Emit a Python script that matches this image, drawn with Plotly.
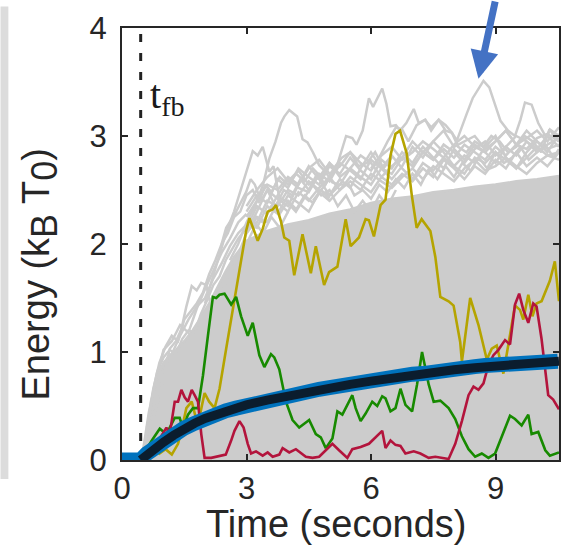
import plotly.graph_objects as go

# ---------------- data ----------------
t_fb = 0.45

# upper edge of the solid mass of gray trajectories
t_env = [0.47, 0.55, 0.65, 0.8, 0.95, 1.1, 1.3, 1.5, 1.7, 1.9, 2.1, 2.3, 2.5, 2.7, 2.9, 3.0,
         3.5, 4.0, 4.5, 5.0, 5.5, 6.0, 6.5, 7.0, 7.5, 8.0, 8.5, 9.0, 9.5, 10.0, 10.53]
E_env = [0.0, 0.2, 0.45, 0.7, 0.85, 0.95, 1.02, 1.1, 1.2, 1.32, 1.45, 1.6, 1.75, 1.88, 1.98, 2.03,
         2.12, 2.18, 2.22, 2.28, 2.32, 2.38, 2.42, 2.44, 2.48, 2.5, 2.53, 2.55, 2.58, 2.6, 2.63]

t_grid = [3.0, 3.25, 3.5, 3.75, 4.0, 4.25, 4.5, 4.75, 5.0, 5.25, 5.5, 5.75, 6.0, 6.25, 6.5, 6.75,
          7.0, 7.25, 7.5, 7.75, 8.0, 8.25, 8.5, 8.75, 9.0, 9.25, 9.5, 9.75, 10.0, 10.25, 10.53]

# individual gray trajectories on the fringe of the bundle
gray_lines = [
    ([4.6, 4.9, 5.2, 5.4, 5.55, 5.65, 5.8, 5.95, 6.05, 6.27, 6.37, 6.47, 6.6, 6.7, 6.85, 7.03, 7.15,
      7.3, 7.45, 7.63, 7.8, 7.95, 8.07, 8.19, 8.31, 8.45, 8.6, 8.71, 8.85, 9.0, 9.12, 9.3, 9.47,
      9.6, 9.71, 9.87, 10.03, 10.23, 10.31, 10.53],
     [2.4, 2.55, 2.75, 3.0, 2.98, 2.92, 3.05, 3.35, 3.27, 3.44, 3.3, 3.09, 3.1, 3.05, 3.12, 3.25, 3.12,
      3.15, 3.08, 3.15, 3.05, 3.03, 2.96, 3.09, 3.21, 3.35, 3.45, 3.51, 3.45, 3.27, 3.14, 3.05, 3.0,
      3.15, 3.31, 3.29, 3.12, 2.98, 3.06, 3.0]),
    ([2.6, 2.8, 3.0, 3.2, 3.4, 3.55, 3.7, 3.83, 3.91, 4.03, 4.22, 4.35, 4.47, 4.6, 4.75, 4.9, 5.07,
      5.23, 5.47, 5.6, 5.8, 6.0, 6.2, 6.4, 6.6, 6.8, 7.0, 7.2, 7.4, 7.6, 7.8, 8.0, 8.2, 8.4, 8.6, 8.8,
      9.0, 9.2, 9.4, 9.6, 9.8, 10.0, 10.2, 10.4, 10.53],
     [1.85, 2.0, 2.2, 2.35, 2.55, 2.79, 2.95, 3.12, 3.18, 3.24, 3.18, 2.97, 2.94, 2.85, 2.73, 2.67, 2.57,
      2.55, 2.55, 2.45, 2.5, 2.42, 2.55, 2.48, 2.6, 2.52, 2.65, 2.55, 2.7, 2.6, 2.72, 2.62, 2.75, 2.68,
      2.8, 2.7, 2.85, 2.75, 2.8, 2.9, 2.78, 2.85, 2.92, 2.8, 2.88]),
    ([2.0, 2.2, 2.4, 2.52, 2.7, 2.83, 2.99, 3.15, 3.27, 3.39, 3.55, 3.65, 3.79, 3.95, 4.19, 4.35, 4.59,
      4.8, 5.0, 5.2, 5.4, 5.6, 5.8, 6.0, 6.2, 6.4, 6.6],
     [1.45, 1.7, 1.95, 2.12, 2.3, 2.46, 2.67, 2.86, 2.82, 2.9, 2.67, 2.72, 2.43, 2.4, 2.3, 2.4, 2.55,
      2.45, 2.5, 2.35, 2.45, 2.3, 2.4, 2.3, 2.45, 2.35, 2.5]),
    ([0.5, 0.7, 0.9, 1.05, 1.15, 1.3, 1.43, 1.55, 1.68, 1.8, 1.91, 2.03, 2.11, 2.25, 2.4, 2.55, 2.7,
      2.85, 3.0, 3.2, 3.4, 3.6, 3.8, 4.0],
     [0.02, 0.3, 0.6, 0.85, 1.03, 1.1, 1.21, 1.42, 1.61, 1.57, 1.64, 1.62, 1.48, 1.4, 1.55, 1.7, 1.8,
      1.95, 2.1, 2.2, 2.1, 2.25, 2.15, 2.3]),
    ([2.4, 2.51, 2.71, 2.83, 2.99, 3.1, 3.2, 3.35, 3.5, 3.7, 3.9, 4.1, 4.3, 4.5, 4.7, 4.9, 5.1, 5.3,
      5.5, 5.7, 5.9, 6.1, 6.3, 6.5],
     [2.0, 2.15, 2.27, 2.36, 2.48, 2.6, 2.55, 2.4, 2.5, 2.35, 2.5, 2.45, 2.6, 2.5, 2.65, 2.55, 2.7, 2.8,
      2.85, 2.72, 2.75, 2.85, 2.7, 2.8]),
    ([6.0, 6.2, 6.4, 6.6, 6.75, 6.9, 7.1, 7.31, 7.45, 7.63, 7.8, 7.95, 8.1, 8.3, 8.5, 8.7, 8.9, 9.1,
      9.3, 9.5, 9.7, 9.9, 10.1, 10.3, 10.53],
     [2.7, 2.8, 2.95, 3.08, 3.06, 2.95, 3.1, 3.15, 3.05, 3.15, 3.1, 3.03, 2.9, 2.85, 2.95, 2.9, 3.0, 2.95,
      2.85, 2.9, 3.0, 2.95, 2.85, 3.06, 2.95]),
    (t_grid,
     [2.3, 2.45, 2.38, 2.6, 2.52, 2.7, 2.62, 2.55, 2.72, 2.65, 2.8, 2.68, 2.6, 2.78, 2.7, 2.85, 2.75, 2.9,
      2.8, 2.7, 2.88, 2.78, 2.92, 2.85, 2.75, 2.9, 2.82, 2.95, 2.88, 3.0, 2.9]),
    (t_grid,
     [2.1, 2.3, 2.5, 2.42, 2.35, 2.55, 2.72, 2.6, 2.45, 2.6, 2.52, 2.7, 2.85, 2.7, 2.6, 2.72, 2.9, 2.8,
      2.95, 2.85, 2.72, 2.82, 2.75, 2.9, 3.0, 2.8, 2.7, 2.85, 2.95, 2.85, 3.02]),
    (t_grid,
     [2.2, 2.15, 2.35, 2.28, 2.45, 2.38, 2.3, 2.48, 2.4, 2.5, 2.62, 2.55, 2.48, 2.62, 2.55, 2.65, 2.58,
      2.7, 2.62, 2.78, 2.7, 2.6, 2.72, 2.65, 2.78, 2.7, 2.85, 2.72, 2.8, 2.72, 2.85]),
    (t_grid,
     [2.25, 2.4, 2.55, 2.5, 2.62, 2.55, 2.7, 2.78, 2.65, 2.72, 2.85, 2.75, 2.68, 2.82, 2.9, 2.78, 2.85,
      2.95, 2.88, 2.8, 2.92, 3.0, 2.9, 2.85, 2.95, 3.05, 2.92, 2.88, 2.98, 3.02, 2.95]),
    (t_grid,
     [2.15, 2.35, 2.28, 2.45, 2.6, 2.52, 2.48, 2.65, 2.58, 2.75, 2.68, 2.6, 2.78, 2.7, 2.65, 2.8, 2.72,
      2.85, 2.78, 2.92, 2.85, 2.75, 2.88, 2.95, 2.82, 2.9, 3.0, 2.95, 2.85, 2.92, 2.98]),
    (t_grid,
     [2.35, 2.5, 2.62, 2.7, 2.58, 2.68, 2.55, 2.62, 2.75, 2.62, 2.7, 2.82, 2.75, 2.62, 2.72, 2.8, 2.95,
      2.85, 2.78, 2.88, 2.8, 2.92, 2.85, 2.78, 2.9, 2.82, 2.92, 3.05, 2.95, 2.88, 2.92]),
    (t_grid,
     [2.0, 2.2, 2.4, 2.35, 2.5, 2.45, 2.58, 2.5, 2.45, 2.55, 2.7, 2.62, 2.55, 2.7, 2.82, 2.7, 2.6, 2.75,
      2.68, 2.8, 2.72, 2.65, 2.8, 2.75, 2.85, 2.78, 2.7, 2.8, 2.9, 2.82, 2.85]),
    (t_grid,
     [2.1, 2.25, 2.2, 2.38, 2.3, 2.48, 2.4, 2.52, 2.62, 2.5, 2.58, 2.5, 2.65, 2.58, 2.52, 2.62, 2.7, 2.6,
      2.72, 2.65, 2.58, 2.7, 2.78, 2.68, 2.72, 2.8, 2.72, 2.65, 2.75, 2.82, 2.78]),
    ([7.0, 7.25, 7.5, 7.75, 8.0, 8.25, 8.5, 8.75, 9.0, 9.25, 9.5, 9.75, 10.0, 10.25, 10.53],
     [2.7, 2.85, 2.95, 3.05, 2.9, 2.95, 3.0, 2.88, 2.95, 3.05, 2.92, 2.98, 3.05, 2.95, 3.08]),
    ([0.55, 0.7, 0.85, 1.0, 1.15, 1.3, 1.45, 1.6, 1.75, 1.9, 2.05, 2.2, 2.35, 2.5, 2.65, 2.8, 3.0, 3.2,
      3.4, 3.6, 3.8, 4.0, 4.2, 4.4, 4.6, 4.8, 5.0],
     [0.1, 0.55, 0.82, 0.95, 1.02, 0.98, 1.12, 1.2, 1.18, 1.35, 1.48, 1.62, 1.7, 1.85, 1.95, 2.05, 2.15,
      2.25, 2.2, 2.35, 2.28, 2.4, 2.32, 2.45, 2.38, 2.5, 2.42]),
    ([0.6, 0.75, 0.9, 1.05, 1.2, 1.35, 1.5, 1.65, 1.8, 1.95, 2.1, 2.25, 2.4, 2.55, 2.7, 2.85, 3.0, 3.15,
      3.3, 3.45, 3.6, 3.8, 4.0, 4.2, 4.4, 4.6, 4.8, 5.0, 5.2],
     [0.2, 0.65, 0.9, 1.05, 1.15, 1.1, 1.3, 1.38, 1.45, 1.55, 1.72, 1.85, 2.0, 2.1, 2.25, 2.3, 2.45, 2.5,
      2.38, 2.55, 2.48, 2.62, 2.55, 2.65, 2.58, 2.7, 2.62, 2.75, 2.68]),
    ([0.55, 0.7, 0.85, 1.0, 1.2, 1.4, 1.6, 1.8, 2.0, 2.2, 2.4, 2.6, 2.8, 3.0],
     [0.15, 0.5, 0.78, 1.02, 1.1, 1.25, 1.18, 1.4, 1.58, 1.75, 1.92, 2.05, 2.2, 2.28]),
    ([0.6, 0.8, 1.0, 1.2, 1.4, 1.6, 1.8, 2.0, 2.2, 2.4, 2.6, 2.8, 3.0],
     [0.3, 0.72, 0.9, 0.98, 1.15, 1.3, 1.42, 1.5, 1.68, 1.82, 1.98, 2.1, 2.18]),
]

# three highlighted trajectories
t_olive = [0.45, 0.6, 0.75, 0.9, 1.05, 1.2, 1.35, 1.45, 1.55, 1.68, 1.8, 1.88, 1.99, 2.1, 2.23, 2.35,
           2.51, 2.67, 2.83, 2.99, 3.07, 3.15, 3.27, 3.39, 3.51, 3.63, 3.71, 3.83, 3.91, 4.03, 4.15,
           4.35, 4.55, 4.67, 4.87, 4.99, 5.19, 5.39, 5.51, 5.71, 5.87, 5.95, 6.07, 6.23, 6.35, 6.47,
           6.59, 6.70, 6.86, 6.98, 7.10, 7.22, 7.39, 7.43, 7.55, 7.67, 7.87, 7.99, 8.15, 8.19, 8.39,
           8.59, 8.79, 8.91, 9.03, 9.19, 9.31, 9.47, 9.59, 9.67, 9.79, 9.89, 9.99, 10.11, 10.31,
           10.43, 10.53]
E_olive = [0.0, 0.03, 0.11, 0.06, 0.1, 0.05, 0.15, 0.3, 0.48, 0.54, 0.36, 0.42, 0.62, 0.54, 0.48, 0.66,
           1.03, 1.39, 1.73, 2.12, 2.24, 2.15, 2.03, 2.14, 2.30, 2.32, 2.36, 2.21, 2.06, 2.03, 1.71,
           2.09, 1.73, 1.98, 1.62, 1.74, 1.79, 2.23, 1.98, 2.06, 2.23, 2.22, 2.07, 2.36, 2.41, 2.82,
           3.02, 3.05, 2.84, 2.46, 2.15, 2.23, 2.14, 2.12, 1.88, 1.51, 1.47, 1.43, 1.09, 0.91, 1.50,
           1.25, 0.93, 1.03, 1.06, 0.80, 1.07, 1.43, 1.39, 1.30, 1.53, 1.33, 1.45, 1.47, 1.66,
           1.84, 1.47]

t_green = [0.45, 0.6, 0.75, 0.91, 1.07, 1.27, 1.39, 1.47, 1.59, 1.71, 1.83, 1.95, 2.07, 2.19, 2.27,
           2.35, 2.47, 2.63, 2.75, 2.87, 3.03, 3.15, 3.31, 3.43, 3.59, 3.67, 3.79, 3.95, 4.11, 4.27,
           4.51, 4.67, 4.79, 4.91, 5.07, 5.19, 5.31, 5.43, 5.55, 5.63, 5.75, 5.87, 6.03, 6.15, 6.27,
           6.35, 6.47, 6.59, 6.71, 6.83, 6.99, 7.11, 7.23, 7.39, 7.51, 7.67, 7.87, 8.03, 8.19, 8.35,
           8.51, 8.67, 8.83, 8.99, 9.15, 9.35, 9.47, 9.63, 9.79, 9.87, 10.03, 10.2, 10.31, 10.53]
E_green = [0.0, 0.11, 0.2, 0.29, 0.24, 0.39, 0.39, 0.29, 0.42, 0.48, 0.48, 0.78, 1.15, 1.51, 1.50,
           1.53, 1.54, 1.44, 1.51, 1.33, 1.15, 1.27, 0.97, 0.86, 0.98, 0.95, 0.84, 0.54, 0.37, 0.30,
           0.37, 0.24, 0.21, 0.11, 0.20, 0.45, 0.42, 0.51, 0.60, 0.48, 0.36, 0.43, 0.54, 0.50, 0.59,
           0.57, 0.45, 0.48, 0.66, 0.51, 0.45, 0.70, 1.00, 0.70, 0.54, 0.55, 0.48, 0.38, 0.22, 0.10,
           0.03, 0.06, 0.02, 0.06, 0.21, 0.41, 0.38, 0.32, 0.42, 0.24, 0.26, 0.09, 0.04, 0.07]

t_red = [0.45, 0.6, 0.75, 0.91, 1.07, 1.15, 1.27, 1.35, 1.43, 1.51, 1.59, 1.68, 1.75, 1.83, 1.91, 1.99,
         2.15, 2.35, 2.5, 2.63, 2.71, 2.83, 2.93, 3.03, 3.11, 3.23, 3.39, 3.51, 3.63, 3.79, 3.87, 4.03,
         4.19, 4.43, 4.59, 4.75, 5.07, 5.23, 5.43, 5.55, 5.75, 5.95, 6.11, 6.27, 6.35, 6.47, 6.59, 6.71,
         6.83, 7.03, 7.19, 7.39, 7.55, 7.87, 8.03, 8.19, 8.35, 8.47, 8.59, 8.71, 8.83, 8.95, 9.07, 9.23,
         9.35, 9.47, 9.57, 9.67, 9.79, 9.91, 9.99, 10.11, 10.27, 10.39, 10.53]
E_red = [0.0, 0.06, 0.15, 0.2, 0.30, 0.24, 0.54, 0.54, 0.65, 0.58, 0.54, 0.65, 0.6, 0.54, 0.24, 0.02,
         0.02, 0.04, 0.05, 0.18, 0.27, 0.36, 0.3, 0.15, 0.06, 0.08, 0.04, 0.07, 0.03, 0.05, 0.11, 0.07,
         0.10, 0.03, 0.02, 0.03, 0.15, 0.09, 0.02, 0.10, 0.12, 0.15, 0.21, 0.27, 0.11, 0.18, 0.14, 0.13,
         0.06, 0.08, 0.06, 0.02, 0.03, 0.01, 0.15, 0.36, 0.60, 0.68, 0.65, 0.71, 0.88, 0.97, 1.02, 1.11,
         1.07, 1.44, 1.54, 1.39, 1.27, 1.45, 1.42, 1.12, 0.60, 0.56, 0.47]

# ensemble mean (blue) and theory (black)
t_mean = [0.0, 0.45, 0.6, 0.8, 1.0, 1.25, 1.5, 1.75, 2.0, 2.25, 2.5, 2.75, 3.0, 3.25, 3.5, 3.75, 4.0,
          4.25, 4.5, 4.75, 5.0, 5.25, 5.5, 5.75, 6.0, 6.25, 6.5, 6.75, 7.0, 7.25, 7.5, 7.75, 8.0, 8.25,
          8.5, 8.75, 9.0, 9.25, 9.5, 9.75, 10.0, 10.25, 10.5]
E_mean = [0.0, 0.0, 0.06, 0.12, 0.17, 0.235, 0.295, 0.34, 0.39, 0.42, 0.455, 0.48, 0.505, 0.535, 0.555,
          0.575, 0.6, 0.615, 0.635, 0.655, 0.67, 0.69, 0.705, 0.72, 0.74, 0.75, 0.765, 0.78, 0.795, 0.8,
          0.82, 0.83, 0.845, 0.85, 0.865, 0.875, 0.885, 0.89, 0.9, 0.905, 0.91, 0.915, 0.915]

t_theory = [0.45, 0.6, 0.8, 1.0, 1.25, 1.5, 1.75, 2.0, 2.5, 3.0, 3.5, 4.0, 4.5, 5.0, 5.5, 6.0, 6.5,
            7.0, 7.5, 8.0, 8.5, 9.0, 9.5, 10.0, 10.53]
E_theory = [0.0, 0.05, 0.11, 0.165, 0.23, 0.29, 0.34, 0.385, 0.455, 0.51, 0.555, 0.595, 0.632, 0.668,
            0.70, 0.73, 0.76, 0.787, 0.812, 0.835, 0.855, 0.872, 0.888, 0.902, 0.915]

x_ticks = [0, 3, 6, 9]
y_ticks = [0, 1, 2, 3, 4]

# ---------------- figure ----------------
GRAY = "#cccccc"
AX = "#262626"
fig = go.Figure()

fig.add_trace(go.Scatter(x=t_env, y=E_env, mode="lines", fill="tozeroy",
                         fillcolor=GRAY, line=dict(color=GRAY, width=2.5), hoverinfo="skip"))
for tx, ey in gray_lines:
    fig.add_trace(go.Scatter(x=tx, y=ey, mode="lines",
                             line=dict(color=GRAY, width=2.5), hoverinfo="skip"))

fig.add_trace(go.Scatter(x=[t_fb, t_fb], y=[0, 4], mode="lines",
                         line=dict(color="#222222", width=3, dash="8px,11px")))

fig.add_trace(go.Scatter(x=t_olive, y=E_olive, mode="lines", line=dict(color="#b5a400", width=2.6)))
fig.add_trace(go.Scatter(x=t_green, y=E_green, mode="lines", line=dict(color="#178a00", width=2.6)))
fig.add_trace(go.Scatter(x=t_red, y=E_red, mode="lines", line=dict(color="#b3143c", width=2.6)))

fig.add_trace(go.Scatter(x=t_mean, y=E_mean, mode="lines", line=dict(color="#0072bd", width=15)))
fig.add_trace(go.Scatter(x=t_theory, y=E_theory, mode="lines", line=dict(color="#0b1d2e", width=9)))

fig.update_layout(
    width=572, height=549,
    margin=dict(l=122, r=11, t=20, b=89, pad=0),
    paper_bgcolor="white", plot_bgcolor="white",
    showlegend=False,
    font=dict(family="Liberation Sans, Arial, sans-serif", color=AX),
    xaxis=dict(range=[0, 10.53], tickvals=x_ticks, ticktext=[str(v) for v in x_ticks],
               ticks="inside", ticklen=6, tickwidth=2, tickcolor=AX,
               showline=True, linewidth=2, linecolor=AX, mirror="ticks",
               showgrid=False, zeroline=False, tickfont=dict(size=31),
               ticklabelstandoff=0),
    yaxis=dict(range=[0, 4], tickvals=y_ticks, ticktext=[str(v) for v in y_ticks],
               ticks="inside", ticklen=6, tickwidth=2, tickcolor=AX,
               showline=True, linewidth=2, linecolor=AX, mirror="ticks",
               showgrid=False, zeroline=False, tickfont=dict(size=31),
               ticklabelstandoff=7),
    shapes=[dict(type="rect", xref="paper", yref="paper",
                 x0=-0.278, x1=-0.26, y0=-0.044, y1=1.05,
                 fillcolor="#dcdcdc", line=dict(width=0), layer="below")],
    annotations=[
        dict(text="t<sub>fb</sub>", x=0.62, y=3.36, xref="x", yref="y",
             xanchor="left", yanchor="middle", showarrow=False,
             font=dict(family="Liberation Serif, Times New Roman, serif", size=40, color="#1a1a1a")),
        dict(text="Time (seconds)", x=0.49, y=-0.148, xref="paper", yref="paper",
             xanchor="center", yanchor="middle", showarrow=False, font=dict(size=38)),
        dict(text="Energy (k<sub><span style='font-size:36px'>B</span></sub> "
                  "T<sub><span style='font-size:36px'>0</span></sub>)",
             x=-0.187, y=0.43,
             xref="paper", yref="paper", xanchor="center", yanchor="middle",
             textangle=-90, showarrow=False, font=dict(size=38)),
        dict(text="", x=8.59, y=3.53, xref="x", yref="y", showarrow=True,
             ax=17, ay=-80, arrowhead=2, arrowsize=0.8, arrowwidth=7,
             arrowcolor="#4472c4", standoff=0),
    ],
)

fig.write_html("out.html")
